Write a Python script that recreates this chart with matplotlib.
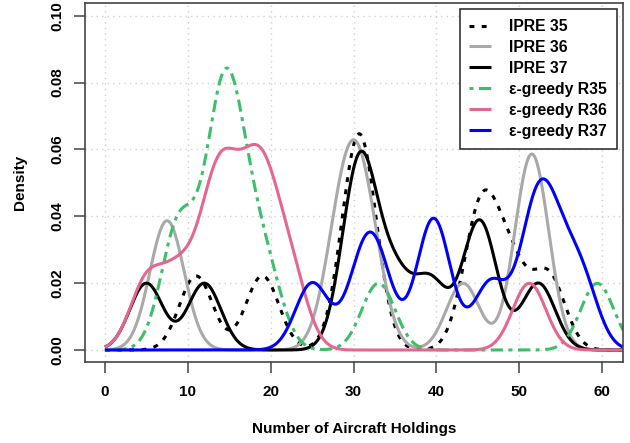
import numpy as np
import matplotlib
matplotlib.use("Agg")
import matplotlib.pyplot as plt

series_names = ["IPRE 35", "IPRE 36", "IPRE 37",
                "\u03b5-greedy R35", "\u03b5-greedy R36", "\u03b5-greedy R37"]
ipre35 = [11, 19, 30, 31, 31, 44.8, 46, 49, 53.5]
ipre36 = [7, 8, 28, 29.5, 30.5, 32, 43.2, 51, 51.5, 52]
ipre37 = [5, 12, 30, 30.8, 31.5, 35, 39.3, 44.7, 45.7, 52.3]
egr35 = [8.3, 9.6, 13.2, 14, 14.6, 15.5, 17, 19.6, 33, 59.4]
egr36 = [5.0, 8.8, 12.4, 13.8, 15, 17.3, 18.7, 19.8, 22.5, 51.2]
egr37 = [25, 31, 33, 39.3, 40, 46.5, 51.5, 52.5, 54.5, 57.5]
bandwidth = 2.0

x_ticks = [0, 10, 20, 30, 40, 50, 60]
y_ticks = [0.00, 0.02, 0.04, 0.06, 0.08, 0.10]

# ---- styles ----
colors = ["black", "#a9a9a9", "black", "#3dbf6a", "#e5678f", "#0000ff"]
styles = [(0, (1.6, 2.4)), "-", "-", (0, (1.3, 1.8, 4.0, 1.8)), "-", "-"]

plt.rcParams["font.family"] = ["Liberation Sans", "DejaVu Sans"]
plt.rcParams["font.weight"] = "bold"

fig = plt.figure(figsize=(6.3, 4.43), dpi=100)
ax = fig.add_axes([85 / 630, 1 - 361.7 / 443, 538 / 630, 358.4 / 443])

grid = np.linspace(0, 63, 1200)


def kde(sample, h, xs):
    s = np.asarray(sample, dtype=float)
    z = (xs[:, None] - s[None, :]) / h
    return np.exp(-0.5 * z ** 2).sum(axis=1) / (len(s) * h * np.sqrt(2 * np.pi))


all_series = [ipre35, ipre36, ipre37, egr35, egr36, egr37]
for name, data, c, ls in zip(series_names, all_series, colors, styles):
    ax.plot(grid, kde(data, bandwidth, grid), color=c, linestyle=ls, lw=2.2,
            label=name, solid_capstyle="butt")

ax.set_xlim(-2.4, 62.5)
ax.set_ylim(-0.0035, 0.1037)
ax.set_xticks(x_ticks)
ax.set_yticks(y_ticks)
ax.set_yticklabels([f"{v:.2f}" for v in y_ticks])
ax.grid(True, color="#d0d0d0", linestyle=(0, (1, 3)), lw=1.0)
ax.set_axisbelow(True)

for sp in ax.spines.values():
    sp.set_color("#444444")
    sp.set_linewidth(1.2)

ax.tick_params(axis="both", direction="out", length=8, width=1.1, color="#444444",
               labelsize=11, pad=7)
ax.tick_params(axis="x", pad=9)
ax.tick_params(axis="y", labelrotation=90)
for lab in ax.get_yticklabels():
    lab.set_va("center")
    lab.set_fontweight("bold")
for lab in ax.get_xticklabels():
    lab.set_fontweight("bold")

ax.set_xlabel("Number of Aircraft Holdings", fontsize=11, fontweight="bold")
ax.set_ylabel("Density", fontsize=11, fontweight="bold")
ax.xaxis.set_label_coords(0.5, (361.7 - 429) / 358.4)
ax.xaxis.label.set_va("center")
ax.yaxis.set_label_coords((20.5 - 85) / 538, 0.5)
ax.yaxis.label.set_va("center")
ax.yaxis.label.set_ha("center")

leg = ax.legend(loc="upper right", frameon=True, fancybox=False,
                framealpha=1, edgecolor="#333333", borderaxespad=0.38,
                borderpad=0.62, labelspacing=0.38,
                handlelength=1.35, handletextpad=1.2,
                prop={"weight": "bold", "size": 11.3})
leg.get_frame().set_linewidth(1.2)

fig.savefig("out.png", dpi=100)
